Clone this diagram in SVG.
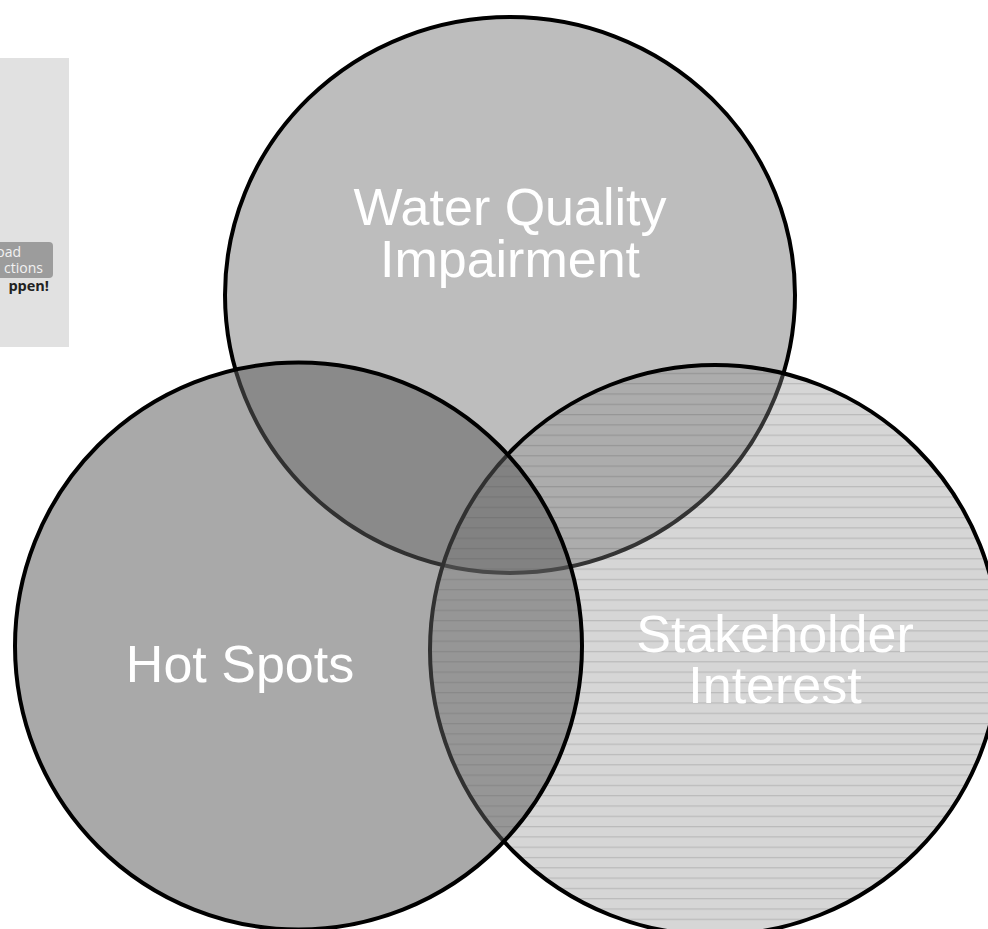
<svg xmlns="http://www.w3.org/2000/svg" width="988" height="929" viewBox="0 0 988 929">
  <defs>
    <pattern id="hlines" patternUnits="userSpaceOnUse" x="0" y="2" width="20" height="10.3">
      <rect x="0" y="0" width="20" height="1.2" fill="#000" fill-opacity="0.13"/>
    </pattern>
    <style>
      .ring { stroke: #000; stroke-width: 4; }
      .label { font-family: "Liberation Sans", Arial, sans-serif; font-size: 52px; fill: #fff; text-anchor: middle; }
      .btn { font-family: "Open Sans", "Liberation Sans", sans-serif; font-size: 14px; fill: #f2f2f2; text-anchor: end; }
      .cap { font-family: "Open Sans", "Liberation Sans", sans-serif; font-size: 14.5px; font-weight: bold; fill: #222; text-anchor: end; }
    </style>
  </defs>
  <rect x="0" y="0" width="988" height="929" fill="#fff"/>

  <g id="inset">
    <rect x="-2" y="58" width="71" height="289" fill="#e1e1e1"/>
    <rect x="-8" y="242" width="61" height="36" rx="4" fill="#9c9c9c"/>
    <text class="btn" x="21" y="257">oad</text>
    <text class="btn" x="43" y="273">ctions</text>
    <text class="cap" x="49" y="291">ppen!</text>
  </g>

  <g id="water-quality">
    <ellipse cx="510" cy="295" rx="285" ry="278" fill="#bdbdbd" class="ring"/>
  </g>

  <g id="stakeholder-interest">
    <circle cx="715" cy="650" r="285" fill="#8e8e8e" fill-opacity="0.364"/>
    <circle cx="715" cy="650" r="285" fill="url(#hlines)"/>
    <circle cx="715" cy="650" r="285" fill="none" class="ring"/>
  </g>

  <g id="hot-spots">
    <circle cx="298.5" cy="646" r="283.5" fill="#5c5c5c" fill-opacity="0.53" class="ring"/>
  </g>

  <g id="labels">
    <text class="label" x="510" y="225">Water Quality</text>
    <text class="label" x="510" y="277">Impairment</text>
    <text class="label" x="240" y="682">Hot Spots</text>
    <text class="label" x="775" y="652">Stakeholder</text>
    <text class="label" x="775" y="703">Interest</text>
  </g>
</svg>
